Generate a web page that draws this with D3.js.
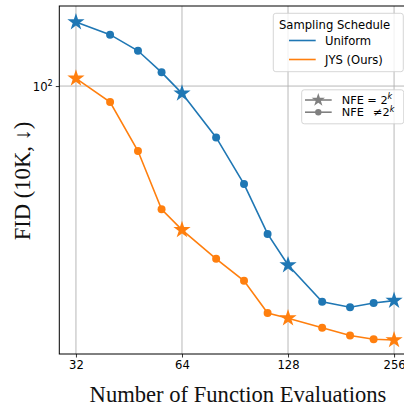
<!DOCTYPE html>
<html>
<head>
<meta charset="utf-8">
<script src="https://cdn.jsdelivr.net/npm/d3@7"></script>
<style>
  body { margin: 0; background: #fff; }
  svg { display: block; }
  .tick text { font-family: "DejaVu Sans", sans-serif; }
</style>
</head>
<body>
<svg id="chart" width="404" height="409"></svg>
<script>
// NFE values and FID
const nfe = [32, 40, 48, 56, 64, 80, 96, 112, 128, 160, 192, 224, 256];
const fidUniform = [144.5, 134.4, 122.5, 108.2, 95.9, 74.4, 56.9, 42.7, 35.7, 28.9, 28.0, 28.7, 29.1];
const fidJYS = [104.5, 91.2, 68.8, 49.2, 43.7, 37.0, 32.6, 27.1, 26.3, 24.9, 23.8, 23.3, 23.2];
const xTicks = [32, 64, 128, 256];
const yTicks = [100];
const seriesNames = ["Uniform", "JYS (Ours)"];

const BLUE = "#1f77b4", ORANGE = "#ff7f0e";

var svg = d3.select("#chart");
var margin = { top: 6, left: 59.3, bottom: 354, right: 410.7 };

var x = d3.scaleLog().base(2)
    .domain([28.7, 285.4])
    .range([margin.left, margin.right]);
var y = d3.scaleLog()
    .domain([21.4, 158.5])
    .range([margin.bottom, margin.top]);

// grid
var grid = svg.append("g");
grid.selectAll(".gx").data(xTicks).enter().append("line")
    .attr("x1", d => x(d)).attr("x2", d => x(d))
    .attr("y1", margin.top).attr("y2", margin.bottom)
    .attr("stroke", "#b0b0b0").attr("stroke-width", 0.9);
grid.selectAll(".gy").data(yTicks).enter().append("line")
    .attr("x1", margin.left).attr("x2", margin.right)
    .attr("y1", d => y(d)).attr("y2", d => y(d))
    .attr("stroke", "#b0b0b0").attr("stroke-width", 0.9);

// axes
var xAxis = svg.append("g")
    .attr("transform", "translate(0," + margin.bottom + ")")
    .call(d3.axisBottom(x).tickValues(xTicks).tickFormat(d3.format("d"))
          .tickSizeInner(3.5).tickSizeOuter(0).tickPadding(3.5));
var yAxis = svg.append("g")
    .attr("transform", "translate(" + margin.left + ",0)")
    .call(d3.axisLeft(y).tickValues(yTicks).tickFormat("")
          .tickSizeInner(3.5).tickSizeOuter(0));
[xAxis, yAxis].forEach(function (a) {
    a.select(".domain").remove();
    a.selectAll(".tick line").attr("stroke", "#000").attr("stroke-width", 0.8);
    a.selectAll(".tick text").attr("font-size", 11.6).attr("fill", "#000");
});
yAxis.selectAll(".tick").append("text")
    .attr("x", -6.5).attr("dy", "0.35em")
    .attr("text-anchor", "end")
    .attr("font-family", "DejaVu Sans, sans-serif")
    .attr("font-size", 11.6).attr("fill", "#000")
    .html('10<tspan dy="-5" font-size="8.2">2</tspan>');

// spines
svg.append("rect")
    .attr("x", margin.left).attr("y", margin.top)
    .attr("width", margin.right - margin.left)
    .attr("height", margin.bottom - margin.top)
    .attr("fill", "none").attr("stroke", "#000").attr("stroke-width", 1);

// series
var line = d3.line().x(d => x(d[0])).y(d => y(d[1]));
var star = d3.symbol().type(d3.symbolStar).size(92);
var circ = d3.symbol().type(d3.symbolCircle).size(50);
function isPow2(n) { return (n & (n - 1)) === 0; }

function drawSeries(vals, color) {
    var pts = nfe.map((n, i) => [n, vals[i]]);
    svg.append("path").datum(pts)
        .attr("d", line).attr("fill", "none")
        .attr("stroke", color).attr("stroke-width", 1.6);
    svg.append("g").selectAll("path").data(pts).enter().append("path")
        .attr("transform", d => "translate(" + x(d[0]) + "," + y(d[1]) + ")")
        .attr("d", d => isPow2(d[0]) ? star() : circ())
        .attr("fill", color);
}
drawSeries(fidUniform, BLUE);
drawSeries(fidJYS, ORANGE);

// axis labels
svg.append("text")
    .attr("x", 238).attr("y", 402)
    .attr("text-anchor", "middle")
    .attr("font-family", "Liberation Serif, Times New Roman, serif")
    .attr("font-size", 22.6).attr("fill", "#111")
    .text("Number of Function Evaluations");
svg.append("text")
    .attr("transform", "translate(30,181) rotate(-90)")
    .attr("text-anchor", "middle")
    .attr("font-family", "Liberation Serif, Times New Roman, serif")
    .attr("font-size", 22.6).attr("fill", "#111")
    .text("FID (10K, \u2193)");

// legend: sampling schedule
var lg1 = svg.append("g");
lg1.append("rect")
    .attr("x", 273.3).attr("y", 13.3).attr("width", 130).attr("height", 58.4)
    .attr("rx", 2.5).attr("fill", "#fff").attr("fill-opacity", 0.8)
    .attr("stroke", "#ccc").attr("stroke-width", 0.8);
lg1.append("text")
    .attr("x", 279).attr("y", 25).attr("dy", "0.35em")
    .attr("font-family", "DejaVu Sans, sans-serif").attr("font-size", 11.6)
    .text("Sampling Schedule");
[BLUE, ORANGE].forEach(function (c, i) {
    var yy = 40.5 + i * 19;
    lg1.append("line").attr("x1", 289).attr("x2", 315.7)
        .attr("y1", yy).attr("y2", yy)
        .attr("stroke", c).attr("stroke-width", 1.6);
    lg1.append("text").attr("x", 325).attr("y", yy).attr("dy", "0.35em")
        .attr("font-family", "DejaVu Sans, sans-serif").attr("font-size", 11.6)
        .text(seriesNames[i]);
});

// legend: marker meaning
var lg2 = svg.append("g");
lg2.append("rect")
    .attr("x", 301.7).attr("y", 89.8).attr("width", 102).attr("height", 34)
    .attr("rx", 2.5).attr("fill", "#fff").attr("fill-opacity", 0.8)
    .attr("stroke", "#ccc").attr("stroke-width", 0.8);
[["=", star], ["\u2260", circ]].forEach(function (m, i) {
    var yy = 100 + i * 12.2;
    lg2.append("line").attr("x1", 305).attr("x2", 331.7)
        .attr("y1", yy).attr("y2", yy)
        .attr("stroke", "#808080").attr("stroke-width", 1.6);
    lg2.append("path")
        .attr("transform", "translate(318.3," + yy + ")")
        .attr("d", i === 0 ? d3.symbol().type(d3.symbolStar).size(55)() : d3.symbol().type(d3.symbolCircle).size(32)())
        .attr("fill", "#808080");
    lg2.append("text").attr("x", 341.7).attr("y", yy).attr("dy", "0.35em")
        .attr("font-family", "DejaVu Sans, sans-serif").attr("font-size", 11.3)
        .html("NFE " + (i === 0 ? "= " : "\u2002\u2260") + '2<tspan dy="-4.5" font-size="8" font-style="italic">k</tspan>');
});
</script>
</body>
</html>
